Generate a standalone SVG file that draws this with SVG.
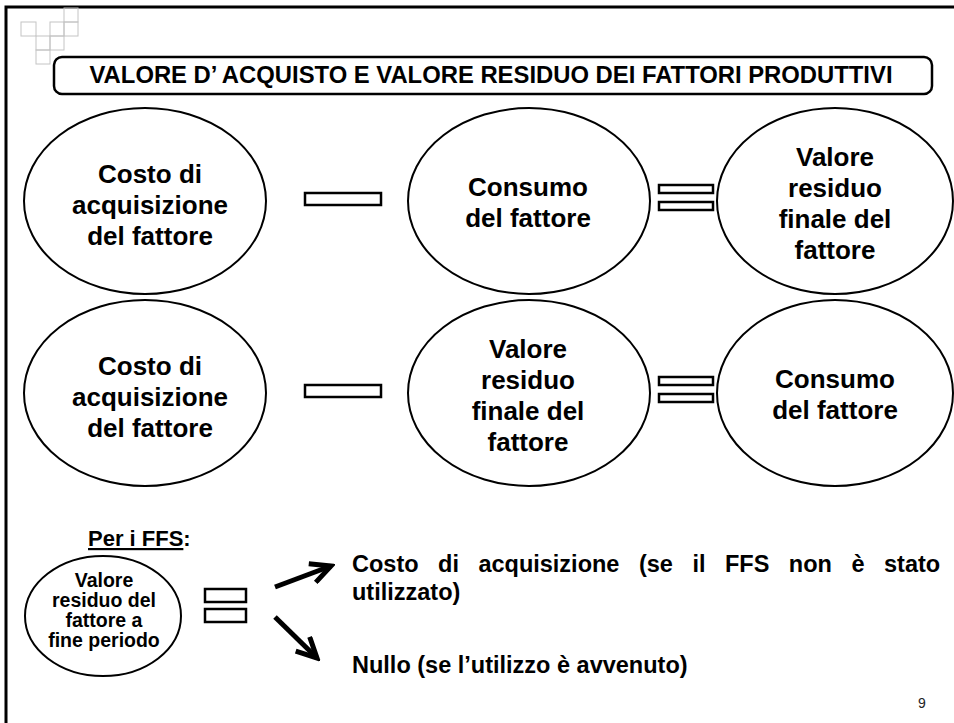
<svg xmlns="http://www.w3.org/2000/svg" width="954" height="723" viewBox="0 0 954 723">
<style>
.t{font-family:"Liberation Sans",Arial,sans-serif;font-weight:bold;fill:#000}
.e{font-size:26px;text-anchor:middle}
.s{font-size:19.5px;text-anchor:middle}
.b{font-size:23.5px}
.node{fill:#fff;stroke:#000;stroke-width:2}
.op{fill:#fff;stroke:#000;stroke-width:2.5}
.grid{fill:none;stroke:#c4c4c4;stroke-width:1}
.arr{stroke:#000;stroke-width:5;fill:none;stroke-linecap:butt}
</style>
<defs>
<marker id="open" markerUnits="userSpaceOnUse" viewBox="-24 -12 28 24" refX="0" refY="0" markerWidth="28" markerHeight="24" orient="auto">
<path d="M-20,-10 L0,0 L-20,10" fill="none" stroke="#000" stroke-width="5" stroke-linejoin="miter"/>
</marker>
</defs>
<rect width="954" height="723" fill="#fff"/>
<g id="frame">
<path d="M6,723 V7 H954" fill="none" stroke="#000" stroke-width="3"/>
</g>
<g id="grid-deco">
<rect class="grid" x="64" y="8" width="14" height="14"/>
<rect class="grid" x="21" y="22" width="15" height="14"/>
<rect class="grid" x="50" y="22" width="14" height="14"/>
<rect class="grid" x="64" y="22" width="14" height="14"/>
<rect class="grid" x="36" y="36" width="14" height="14"/>
<rect class="grid" x="50" y="36" width="14" height="14"/>
<rect class="grid" x="36" y="50" width="14" height="14"/>
</g>
<g id="title">
<rect x="54" y="57" width="878" height="37" rx="8" fill="#fff" stroke="#000" stroke-width="2.5"/>
<text class="t" x="491" y="83" font-size="23.5" text-anchor="middle" textLength="803" lengthAdjust="spacingAndGlyphs">VALORE D’ ACQUISTO E VALORE RESIDUO DEI FATTORI PRODUTTIVI</text>
</g>
<g id="r1-costo">
<ellipse class="node" cx="145" cy="201" rx="121" ry="93"/>
<text class="t e" x="150" y="183">Costo di</text>
<text class="t e" x="150" y="214">acquisizione</text>
<text class="t e" x="150" y="245">del fattore</text>
</g>
<g id="r1-minus"><rect class="op" x="305" y="193" width="76" height="12"/></g>
<g id="r1-consumo">
<ellipse class="node" cx="529" cy="201" rx="121" ry="93"/>
<text class="t e" x="528" y="196">Consumo</text>
<text class="t e" x="528" y="227">del fattore</text>
</g>
<g id="r1-equals">
<rect class="op" x="659" y="185" width="54" height="8"/>
<rect class="op" x="659" y="202" width="54" height="8"/>
</g>
<g id="r1-valore">
<ellipse class="node" cx="835" cy="201" rx="118" ry="93"/>
<text class="t e" x="835" y="166">Valore</text>
<text class="t e" x="835" y="197">residuo</text>
<text class="t e" x="835" y="228">finale del</text>
<text class="t e" x="835" y="259">fattore</text>
</g>
<g id="r2-costo">
<ellipse class="node" cx="145" cy="393" rx="121" ry="93"/>
<text class="t e" x="150" y="375">Costo di</text>
<text class="t e" x="150" y="406">acquisizione</text>
<text class="t e" x="150" y="437">del fattore</text>
</g>
<g id="r2-minus"><rect class="op" x="305" y="385" width="76" height="12"/></g>
<g id="r2-valore">
<ellipse class="node" cx="529" cy="393" rx="121" ry="93"/>
<text class="t e" x="528" y="358">Valore</text>
<text class="t e" x="528" y="389">residuo</text>
<text class="t e" x="528" y="420">finale del</text>
<text class="t e" x="528" y="451">fattore</text>
</g>
<g id="r2-equals">
<rect class="op" x="659" y="377" width="54" height="8"/>
<rect class="op" x="659" y="394" width="54" height="8"/>
</g>
<g id="r2-consumo">
<ellipse class="node" cx="835" cy="393" rx="118" ry="93"/>
<text class="t e" x="835" y="388">Consumo</text>
<text class="t e" x="835" y="419">del fattore</text>
</g>
<g id="ffs-label">
<text class="t" x="88" y="546" font-size="22"><tspan text-decoration="underline">Per i FFS</tspan>:</text>
</g>
<g id="ffs-valore">
<ellipse class="node" cx="103" cy="616" rx="78" ry="60"/>
<text class="t s" x="104" y="587">Valore</text>
<text class="t s" x="104" y="607">residuo del</text>
<text class="t s" x="104" y="627">fattore a</text>
<text class="t s" x="104" y="647">fine periodo</text>
</g>
<g id="ffs-equals">
<rect class="op" x="205" y="589" width="41" height="13"/>
<rect class="op" x="205" y="609" width="41" height="13"/>
</g>
<g id="connectors">
<line class="arr" x1="275" y1="587" x2="331" y2="566" marker-end="url(#open)"/>
<line class="arr" x1="275" y1="617" x2="317" y2="658" marker-end="url(#open)"/>
</g>
<g id="ffs-costo">
<text class="t b" y="572"><tspan x="352">Costo</tspan><tspan x="438.1">di</tspan><tspan x="478.4">acquisizione</tspan><tspan x="638.9">(se</tspan><tspan x="692.4">il</tspan><tspan x="725">FFS</tspan><tspan x="788.8">non</tspan><tspan x="851.4">è</tspan><tspan x="884">stato</tspan></text>
<text class="t b" x="352" y="600">utilizzato)</text>
</g>
<g id="ffs-nullo">
<text class="t b" x="352" y="673">Nullo (se l’utilizzo è avvenuto)</text>
</g>
<g id="page">
<text x="922" y="708" font-family="'Liberation Sans',Arial,sans-serif" font-size="14" fill="#222" text-anchor="middle">9</text>
</g>
</svg>
